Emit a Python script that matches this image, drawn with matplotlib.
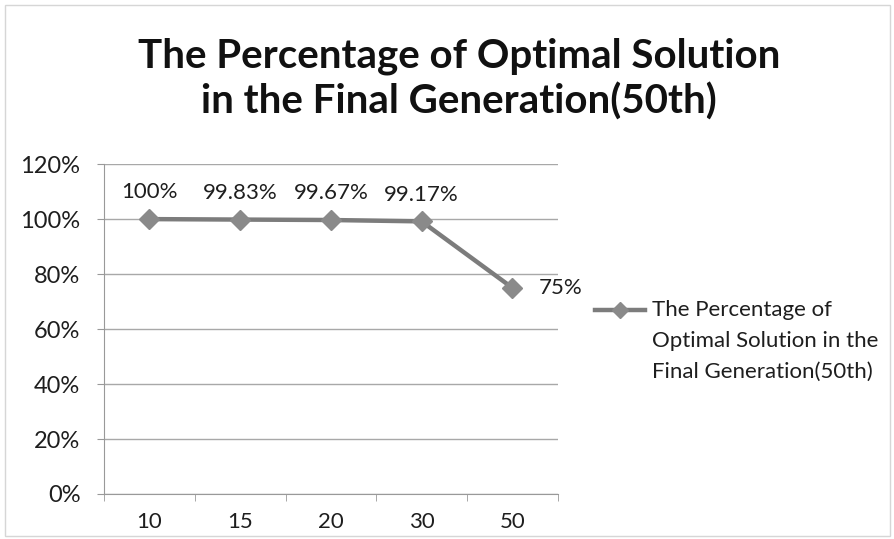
import matplotlib.pyplot as plt
import matplotlib.patches as patches
from matplotlib.lines import Line2D
from matplotlib.ticker import FixedLocator, PercentFormatter

plt.rcParams['font.family'] = ['Lato', 'DejaVu Sans']

generations = ["10", "15", "20", "30", "50"]
optimal_share = [1.0, 0.9983, 0.9967, 0.9917, 0.75]
point_labels = ["100%", "99.83%", "99.67%", "99.17%", "75%"]
y_ticks = [0, 0.2, 0.4, 0.6, 0.8, 1.0, 1.2]
series_name = "The Percentage of\nOptimal Solution in the\nFinal Generation(50th)"
title = "The Percentage of Optimal Solution\nin the Final Generation(50th)"

LINE_GRAY = "#7c7c7c"
TEXT = "#1e1e1e"

fig = plt.figure(figsize=(8.95, 5.39), dpi=100)
fig.patch.set_facecolor("white")
fig.patches.append(patches.Rectangle((0.006, 0.006), 0.988, 0.985, transform=fig.transFigure,
                                     fill=False, edgecolor="#d6d6d6", linewidth=1))

ax = fig.add_axes([0.1162, 0.0835, 0.507, 0.612])
x = list(range(len(generations)))
ax.plot(x, optimal_share, color=LINE_GRAY, linewidth=3.2, marker="D",
        markersize=10, markerfacecolor="#8a8a8a", markeredgecolor="#8a8a8a")

for i, (v, lab) in enumerate(zip(optimal_share, point_labels)):
    if i == len(x) - 1:
        ax.annotate(lab, (i, v), xytext=(19, 0), textcoords="offset points",
                    ha="left", va="center", fontsize=16, color=TEXT)
    else:
        ax.annotate(lab, (i, v), xytext=(0, 12), textcoords="offset points",
                    ha="center", va="bottom", fontsize=16, color=TEXT)

ax.set_xlim(-0.5, len(x) - 0.5)
ax.set_ylim(0, 1.2)
ax.set_xticks(x)
ax.set_xticklabels(generations, fontsize=16, color=TEXT)
ax.xaxis.set_minor_locator(FixedLocator([i - 0.5 for i in range(len(x) + 1)]))
ax.tick_params(axis="x", which="major", length=0, pad=13)
ax.tick_params(axis="x", which="minor", length=5, color="#999999")
ax.set_yticks(y_ticks)
ax.yaxis.set_major_formatter(PercentFormatter(1.0, decimals=0))
ax.tick_params(axis="y", length=5, color="#999999", labelsize=17, labelcolor=TEXT, pad=12)
ax.grid(axis="y", color="#a8a8a8", linewidth=1)
ax.set_axisbelow(True)
for side in ["top", "right"]:
    ax.spines[side].set_visible(False)
for side in ["left", "bottom"]:
    ax.spines[side].set_color("#999999")

fig.text(0.513, 0.853, title, ha="center", va="center", fontsize=29,
         fontweight="bold", color="#111111", linespacing=1.24)

# series key to the right of the plot, handle lined up with the first text line
key_y = 0.5576
line_step = 31 / 330  # one text line, in axes fraction
ax.add_line(Line2D([1.081, 1.192], [key_y, key_y], transform=ax.transAxes, clip_on=False,
                   color=LINE_GRAY, linewidth=3.2))
ax.add_line(Line2D([1.1365], [key_y], transform=ax.transAxes, clip_on=False, marker="D",
                   markersize=8, color="#8a8a8a"))
for k, part in enumerate(series_name.split("\n")):
    ax.text(1.207, key_y - k * line_step, part, transform=ax.transAxes, ha="left",
            va="center", fontsize=16, color=TEXT)

fig.savefig("out.png", dpi=100)
